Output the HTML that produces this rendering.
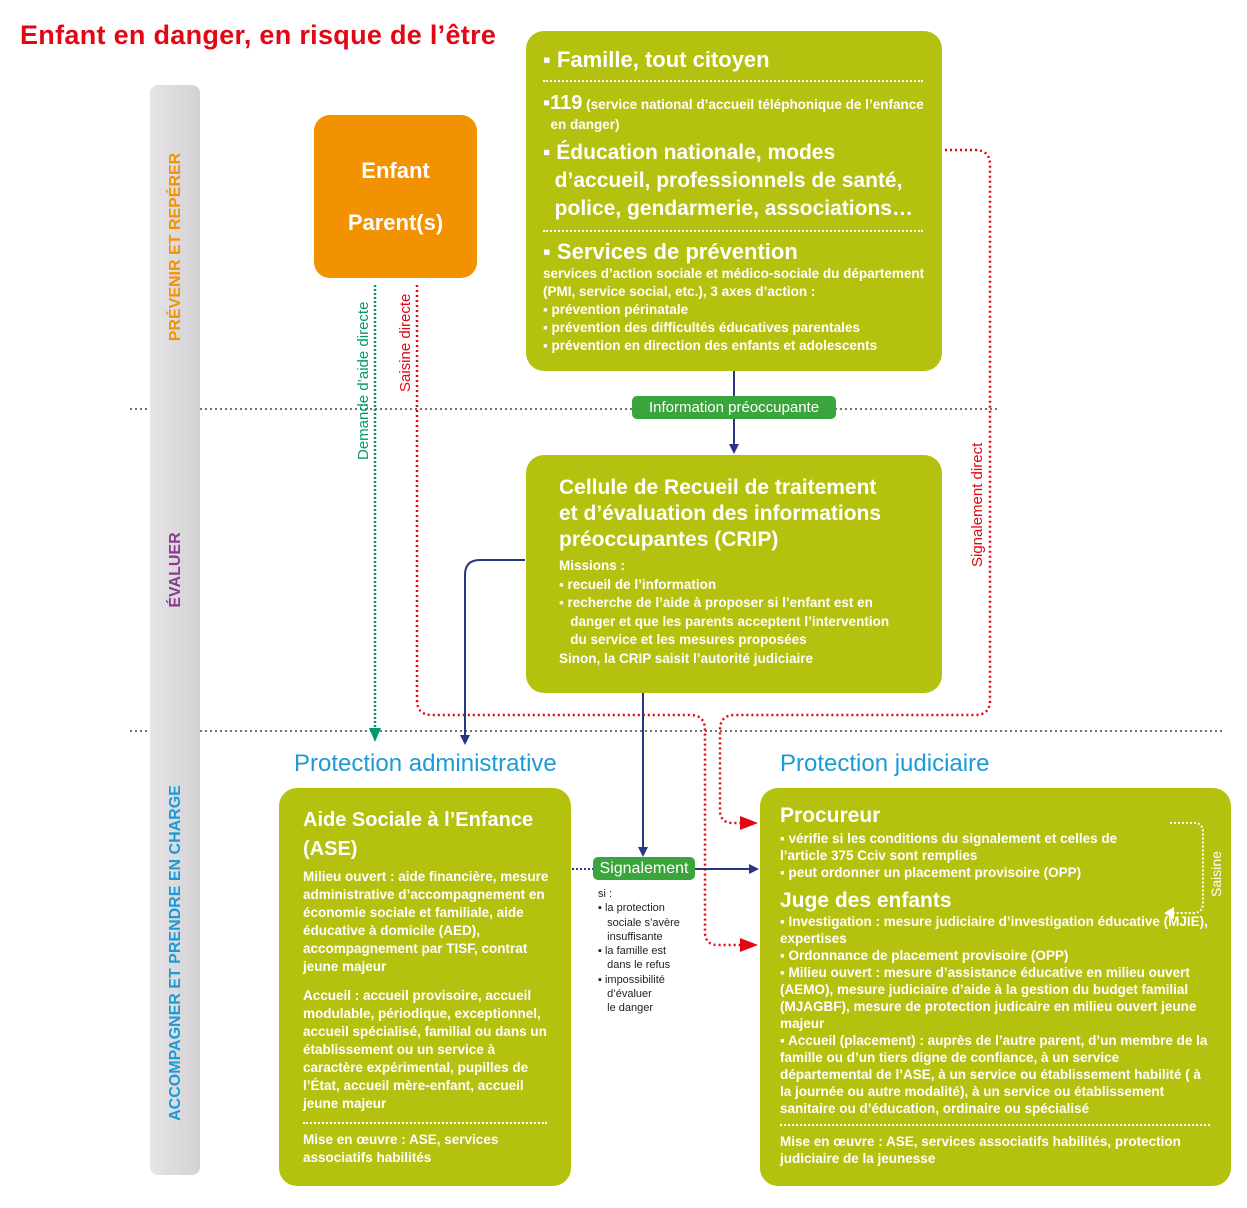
<!DOCTYPE html>
<html><head><meta charset="utf-8"><style>
body{margin:0;width:1247px;height:1208px;background:#fff;position:relative;font-family:"Liberation Sans",sans-serif;overflow:hidden}
.a{position:absolute}
.g{background:#b5c10f;border-radius:18px;color:#fff}
.t{font-weight:bold}
.s{font-size:13.5px;line-height:18px;font-weight:bold}
.dot{border-top:2px dotted #fff;}
.lab{background:#3aa53a;color:#fff;border-radius:5px;font-size:15px;text-align:center}
</style></head><body>
<svg class="a" style="left:0;top:0" width="1247" height="1208">
<defs>
<marker id="b" markerWidth="10" markerHeight="10" refX="8" refY="5" orient="auto" markerUnits="userSpaceOnUse"><path d="M0,0 L10,5 L0,10z" fill="#283583"/></marker>
<marker id="w" markerWidth="12" markerHeight="12" refX="10" refY="6" orient="auto" markerUnits="userSpaceOnUse"><path d="M0,0 L12,6 L0,12z" fill="#fff"/></marker>
</defs>
<g stroke="#444" stroke-width="1.5" stroke-dasharray="2,3" fill="none">
<line x1="130" y1="409" x2="1000" y2="409"/><line x1="130" y1="731" x2="1222" y2="731"/></g>
<line x1="375" y1="285" x2="375" y2="730" stroke="#009a6e" stroke-width="2.5" stroke-dasharray="2,2"/>
<path d="M369,728 L381,728 L375,742z" fill="#009a6e"/>
<g fill="none" stroke="#e30613" stroke-width="2.5" stroke-dasharray="2,3">
<path d="M417,285 V700 Q417,715 432,715 H690 Q705,715 705,730 V932 Q705,945 718,945 H745"/>
<path d="M945,150 H975 Q990,150 990,165 V700 Q990,715 975,715 H735 Q720,715 720,730 V810 Q720,823 733,823 H745"/>
</g>
<path d="M740,816 L758,823 L740,830z" fill="#e30613"/><path d="M740,938 L758,945 L740,952z" fill="#e30613"/>
<g fill="none" stroke="#283583" stroke-width="2">
<line x1="734" y1="371" x2="734" y2="396"/><line x1="734" y1="419" x2="734" y2="452" marker-end="url(#b)"/>
<path d="M525,560 H480 Q465,560 465,575 V743" marker-end="url(#b)"/>
<line x1="643" y1="693" x2="643" y2="855" marker-end="url(#b)"/>
<line x1="695" y1="869" x2="757" y2="869" marker-end="url(#b)"/>
<line x1="572" y1="869" x2="593" y2="869" stroke-dasharray="2,2"/>
</g>
<text transform="translate(368,460) rotate(-90)" fill="#009a6e" font-size="15" font-family="Liberation Sans">Demande d’aide directe</text>
<text transform="translate(410,392) rotate(-90)" fill="#e30613" font-size="15" font-family="Liberation Sans">Saisine directe</text>
<text transform="translate(982,567) rotate(-90)" fill="#e30613" font-size="15" font-family="Liberation Sans">Signalement direct</text>
</svg>
<div class="a t" style="left:20px;top:20px;font-size:27px;color:#e30613;letter-spacing:0.3px">Enfant en danger, en risque de l’être</div>
<div class="a" style="left:150px;top:85px;width:50px;height:1090px;border-radius:8px;background:linear-gradient(90deg,#e6e4e6,#d4d1d4)"></div>
<div class="a t" style="left:176px;top:247px;transform:translate(-50%,-50%) rotate(-90deg);white-space:nowrap;color:#f39200;font-size:16px">PRÉVENIR ET REPÉRER</div>
<div class="a t" style="left:176px;top:570px;transform:translate(-50%,-50%) rotate(-90deg);white-space:nowrap;color:#8a3b8f;font-size:16px">ÉVALUER</div>
<div class="a t" style="left:176px;top:953px;transform:translate(-50%,-50%) rotate(-90deg);white-space:nowrap;color:#1c9ad6;font-size:16px">ACCOMPAGNER ET PRENDRE EN CHARGE</div>

<div class="a t" style="left:314px;top:115px;width:163px;height:163px;background:#f39200;border-radius:16px;color:#fff;font-size:22px;text-align:center;line-height:52px;padding-top:30px;box-sizing:border-box">Enfant<br>Parent(s)</div>

<div class="a g" style="left:526px;top:31px;width:416px;height:340px">
<div class="a t" style="left:17px;top:16px;font-size:22px">▪ Famille, tout citoyen</div>
<div class="a dot" style="left:17px;top:49px;width:380px"></div>
<div class="a" style="left:17px;top:62px;font-size:13.5px;font-weight:bold;width:395px;line-height:20px"><span style="font-size:20px">▪119</span> (service national d’accueil téléphonique de l’enfance<br>&nbsp;&nbsp;en danger)</div>
<div class="a t" style="left:17px;top:108px;font-size:21px;line-height:28px;width:400px">▪ Éducation nationale, modes<br>&nbsp;&nbsp;d’accueil, professionnels de santé,<br>&nbsp;&nbsp;police, gendarmerie, associations…</div>
<div class="a dot" style="left:17px;top:199px;width:380px"></div>
<div class="a t" style="left:17px;top:208px;font-size:22px">▪ Services de prévention</div>
<div class="a s" style="left:17px;top:234px;width:400px">services d’action sociale et médico-sociale du département (PMI, service social, etc.), 3 axes d’action :<br>▪ prévention périnatale<br>▪ prévention des difficultés éducatives parentales<br>▪ prévention en direction des enfants et adolescents</div>
</div>

<div class="a lab" style="left:632px;top:396px;width:204px;height:23px;line-height:23px">Information préoccupante</div>

<div class="a g" style="left:526px;top:455px;width:416px;height:238px">
<div class="a t" style="left:33px;top:20px;font-size:21px;line-height:26px">Cellule de Recueil de traitement<br>et d’évaluation des informations<br>préoccupantes (CRIP)</div>
<div class="a s" style="left:33px;top:102px;width:370px;line-height:18.5px">Missions :<br>▪ recueil de l’information<br>▪ recherche de l’aide à proposer si l’enfant est en<br>&nbsp;&nbsp;&nbsp;danger et que les parents acceptent l’intervention<br>&nbsp;&nbsp;&nbsp;du service et les mesures proposées<br>Sinon, la CRIP saisit l’autorité judiciaire</div>
</div>

<div class="a" style="left:294px;top:750px;font-size:24px;color:#1c9ad6">Protection administrative</div>
<div class="a" style="left:780px;top:750px;font-size:24px;color:#1c9ad6">Protection judiciaire</div>

<div class="a g" style="left:279px;top:788px;width:292px;height:398px">
<div class="a t" style="left:24px;top:18px;font-size:20px;line-height:29px">Aide Sociale à l’Enfance<br>(ASE)</div>
<div class="a s" style="left:24px;top:80px;width:248px">Milieu ouvert : aide financière, mesure administrative d’accompagnement en économie sociale et familiale, aide éducative à domicile (AED), accompagnement par TISF, contrat jeune majeur</div>
<div class="a s" style="left:24px;top:199px;width:250px">Accueil : accueil provisoire, accueil modulable, périodique, exceptionnel, accueil spécialisé, familial ou dans un établissement ou un service à caractère expérimental, pupilles de l’État, accueil mère-enfant, accueil jeune majeur</div>
<div class="a dot" style="left:24px;top:334px;width:244px"></div>
<div class="a s" style="left:24px;top:343px;width:260px">Mise en œuvre : ASE, services associatifs habilités</div>
</div>

<div class="a lab" style="left:593px;top:857px;width:102px;height:23px;line-height:23px;font-size:16px">Signalement</div>
<div class="a" style="left:598px;top:887px;font-size:11px;line-height:14.3px;color:#222">si :<br>▪ la protection<br>&nbsp;&nbsp;&nbsp;sociale s’avère<br>&nbsp;&nbsp;&nbsp;insuffisante<br>▪ la famille est<br>&nbsp;&nbsp;&nbsp;dans le refus<br>▪ impossibilité<br>&nbsp;&nbsp;&nbsp;d’évaluer<br>&nbsp;&nbsp;&nbsp;le danger</div>

<div class="a g" style="left:760px;top:788px;width:471px;height:398px">
<div class="a t" style="left:20px;top:16px;font-size:21px">Procureur</div>
<div class="a s" style="left:20px;top:42px;width:370px;line-height:17px">▪ vérifie si les conditions du signalement et celles de l’article 375 Cciv sont remplies<br>▪ peut ordonner un placement provisoire (OPP)</div>
<div class="a t" style="left:20px;top:101px;font-size:21px">Juge des enfants</div>
<div class="a s" style="left:20px;top:125px;width:428px;line-height:17px">▪ Investigation : mesure judiciaire d’investigation éducative (MJIE), expertises<br>▪ Ordonnance de placement provisoire (OPP)<br>▪ Milieu ouvert : mesure d’assistance éducative en milieu ouvert (AEMO), mesure judiciaire d’aide à la gestion du budget familial (MJAGBF), mesure de protection judicaire en milieu ouvert jeune majeur<br>▪ Accueil (placement) : auprès de l’autre parent, d’un membre de la famille ou d’un tiers digne de confiance, à un service départemental de l’ASE, à un service ou établissement habilité ( à la journée ou autre modalité), à un service ou établissement sanitaire ou d’éducation, ordinaire ou spécialisé</div>
<div class="a dot" style="left:20px;top:336px;width:430px"></div>
<div class="a s" style="left:20px;top:345px;width:440px;line-height:17px">Mise en œuvre : ASE, services associatifs habilités, protection judiciaire de la jeunesse</div>
<div class="a" style="left:456px;top:86px;transform:translate(-50%,-50%) rotate(-90deg);font-size:14px">Saisine</div>
<svg class="a" style="left:400px;top:28px" width="60" height="110"><path d="M10,7 H35 Q43,7 43,17 V87 Q43,97 33,97 H12" fill="none" stroke="#fff" stroke-width="2" stroke-dasharray="2,2"/><path d="M4,97 L14,91 L14,103z" fill="#fff"/></svg>
</div>
</body></html>
